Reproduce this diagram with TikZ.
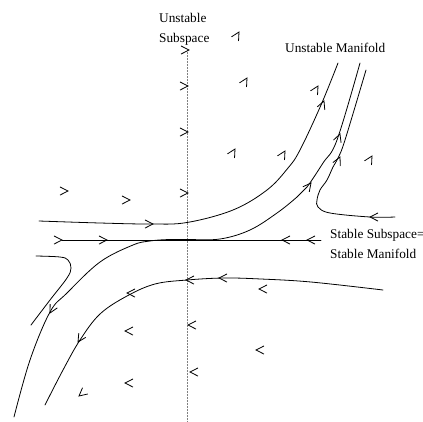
\documentclass[tikz,border=0pt]{standalone}
\usepackage{fontspec}
\setmainfont{Liberation Serif}
\newcommand\chv[2]{\draw[chev] #1 ++(#2+153:9) -- #1 -- ++(#2+207:9);}
\begin{document}
\begin{tikzpicture}[x=1pt,y=-1pt,
  curve/.style={line width=0.8pt, line join=round, line cap=round},
  chev/.style={line width=0.8pt, line join=miter},
  lbl/.style={font=\fontsize{13.3}{20.5}\selectfont, inner sep=0pt, align=left},
  axis/.style={densely dotted, line width=0.5pt, gray}]
\useasboundingbox (0,0) rectangle (423,421);
% labels
\node[lbl, anchor=north west] (unstsub) at (159,13) {Unstable\\Subspace};
\node[lbl, anchor=north west] (unstman) at (285,43) {Unstable Manifold};
\node[lbl, anchor=north west] (stabsub) at (330,229) {Stable Subspace=\\Stable Manifold};
% unstable subspace (dotted)
\coordinate (dtop) at (187,50);
\coordinate (dbot) at (187,421);
\draw[axis] (dtop) -- (dbot);
% stable subspace
\coordinate (sl) at (62,240);
\coordinate (sr) at (321,240);
\draw[curve] (sl) -- (sr);
% trajectories
\draw[curve] plot[smooth, tension=0.6] coordinates {(39,221) (100,223) (150,224) (187,222.5) (233,210) (267,190) (288,168) (300,150) (321,105) (338,63)};
\draw[curve] plot[smooth, tension=0.6] coordinates {(14,417) (30,360) (50,312) (67,293) (100,262) (133,245) (150,241) (167,239.6) (187,239.5) (220,239) (250,230) (277,213) (297,197) (307,187) (323,163) (337,140) (360,63)};
\draw[curve] plot[smooth, tension=0.6] coordinates {(395,217) (370,217) (330,213) (318,207) (317,200) (320,190) (327,180) (333,167) (338,158) (345,140) (366,70)};
\draw[curve] plot[smooth, tension=0.6] coordinates {(383,290) (311,282) (261,279) (224,278) (187,280) (155,284) (127,296) (100,314) (80,340) (63,370) (45,405)};
\draw[curve] plot[smooth, tension=0.6] coordinates {(36,256) (60,257) (68,260) (71,268) (67,278) (50,300) (31,325)};
% arrowheads on trajectories
\chv{(62,240)}{0}
\chv{(107,240)}{0}
\chv{(282,240)}{180}
\chv{(307,240)}{180}
\chv{(153,224)}{0}
\chv{(324,101)}{-68}
\chv{(311,183)}{-52}
\chv{(340,134)}{-70}
\chv{(50,313)}{118}
\chv{(370,217)}{180}
\chv{(340,157)}{-65}
\chv{(219,278)}{180}
\chv{(186,280)}{180}
\chv{(78,342)}{122}
% field chevrons
\chv{(189,50)}{0}
\chv{(188,86)}{0}
\chv{(188,132)}{0}
\chv{(188,193)}{0}
\chv{(68,191)}{0}
\chv{(130,200)}{0}
\chv{(239,32)}{-60}
\chv{(247,78)}{-60}
\chv{(318,86)}{-60}
\chv{(235,149)}{-60}
\chv{(285,151)}{-60}
\chv{(372,156)}{-60}
\chv{(127,293)}{180}
\chv{(125,331)}{180}
\chv{(188,325)}{180}
\chv{(125,383)}{180}
\chv{(190,372)}{180}
\chv{(259,289)}{180}
\chv{(256,350)}{180}
\chv{(79,396)}{140}
\end{tikzpicture}
\end{document}
